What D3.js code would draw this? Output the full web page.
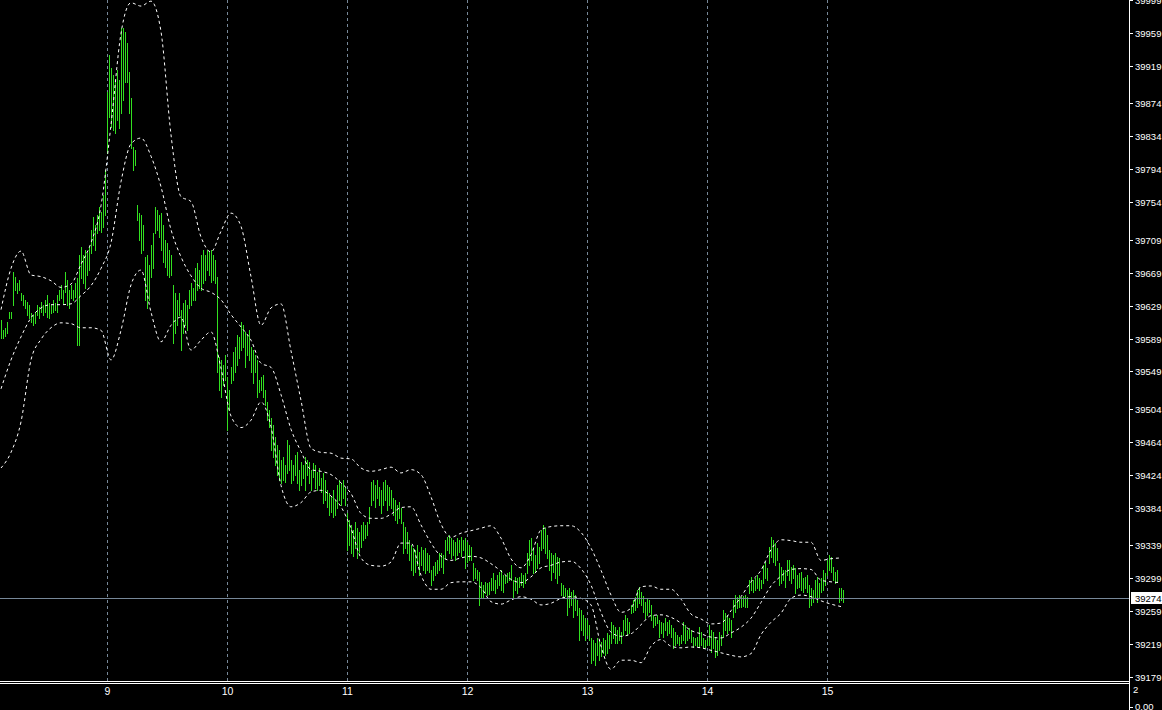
<!DOCTYPE html>
<meta charset="utf-8">
<head>
<title>Bars with Bollinger bands</title>
<style>
body { margin: 0; background: #000; }
svg text { font-family: "Liberation Sans", Arial, sans-serif; fill: #fff; }
</style>
</head>
<body>
<script src="https://d3js.org/d3.v7.min.js"></script>
<script>

// one-minute bars, first bar at 08:07
var firstBarMinute = 8 * 60 + 7;

var highs = [
39612,39599,39602,39609,39621,39621,39670,39664,39656,39660,
39644,39642,39636,39633,39630,39620,39618,39621,39630,39627,
39633,39630,39636,39642,39632,39630,39636,39632,39642,39648,
39654,39648,39670,39660,39648,39654,39648,39656,39662,39690,
39700,39690,39696,39693,39700,39721,39736,39727,39739,39748,
39742,39763,39793,39888,39933,39917,39909,39902,39915,39902,
39966,39966,39961,39947,39912,39881,39821,39818,39751,39741,
39739,39727,39688,39690,39678,39702,39717,39748,39745,39739,
39741,39727,39708,39705,39696,39690,39654,39644,39636,39644,
39624,39632,39636,39630,39648,39656,39650,39674,39681,39672,
39690,39696,39690,39696,39694,39696,39690,39684,39664,39567,
39563,39557,39569,39542,39527,39554,39573,39579,39593,39591,
39609,39605,39597,39593,39599,39579,39575,39569,39563,39539,
39542,39545,39527,39512,39502,39493,39484,39470,39460,39454,
39442,39445,39436,39466,39460,39442,39436,39448,39451,39430,
39439,39436,39445,39442,39439,39430,39438,39436,39427,39432,
39420,39426,39418,39405,39402,39397,39405,39393,39411,39418,
39414,39418,39409,39377,39369,39363,39357,39367,39359,39354,
39363,39367,39363,39367,39385,39415,39418,39411,39418,39409,
39405,39415,39418,39411,39409,39405,39396,39393,39387,39391,
39384,39367,39361,39354,39345,39339,39335,39333,39339,39330,
39336,39333,39335,39329,39327,39308,39313,39318,39320,39329,
39329,39327,39345,39348,39351,39347,39345,39342,39347,39345,
39348,39345,39347,39342,39339,39336,39317,39311,39308,39306,
39294,39290,39294,39293,39294,39299,39305,39296,39302,39306,
39308,39302,39302,39305,39306,39314,39296,39300,39299,39300,
39305,39302,39305,39329,39345,39347,39335,39327,39341,39336,
39357,39363,39359,39351,39333,39329,39327,39329,39324,39323,
39293,39290,39287,39284,39287,39282,39284,39278,39272,39262,
39260,39254,39250,39248,39242,39226,39224,39220,39226,39224,
39221,39226,39224,39232,39230,39245,39242,39239,39236,39239,
39233,39248,39254,39250,39245,39266,39272,39276,39284,39288,
39282,39277,39270,39274,39272,39266,39254,39251,39254,39248,
39245,39244,39250,39245,39248,39242,39238,39233,39230,39227,
39230,39245,39242,39236,39238,39236,39227,39226,39227,39239,
39233,39226,39224,39226,39242,39236,39233,39227,39224,39233,
39230,39260,39256,39254,39250,39248,39272,39278,39276,39278,
39276,39277,39278,39276,39296,39300,39296,39299,39302,39299,
39296,39314,39318,39311,39336,39348,39345,39341,39335,39317,
39312,39308,39308,39320,39320,39312,39314,39311,39302,39305,
39306,39299,39300,39302,39290,39287,39284,39296,39300,39293,
39299,39308,39305,39320,39327,39324,39312,39306,39308,39287,
39287,39284
];

var lows = [
39590,39590,39592,39596,39614,39614,39630,39648,39644,39648,
39636,39630,39626,39618,39614,39609,39605,39608,39618,39614,
39621,39618,39621,39615,39614,39620,39621,39624,39621,39636,
39638,39632,39645,39630,39626,39638,39636,39639,39581,39581,
39662,39656,39650,39666,39672,39693,39702,39696,39717,39721,
39718,39724,39739,39814,39858,39845,39842,39838,39854,39844,
39862,39878,39900,39900,39862,39820,39793,39799,39733,39708,
39693,39696,39636,39626,39636,39664,39674,39717,39721,39712,
39696,39682,39676,39666,39664,39666,39584,39596,39605,39618,
39575,39596,39605,39599,39626,39630,39636,39636,39648,39650,
39648,39656,39660,39672,39666,39658,39660,39656,39548,39527,
39518,39533,39539,39478,39502,39535,39539,39548,39557,39565,
39575,39579,39554,39569,39563,39548,39535,39548,39518,39524,
39527,39518,39508,39490,39482,39454,39445,39436,39424,39418,
39414,39418,39415,39426,39430,39414,39418,39424,39414,39405,
39411,39420,39405,39424,39414,39405,39421,39408,39405,39411,
39403,39390,39393,39385,39375,39379,39373,39375,39384,39393,
39387,39396,39387,39333,39339,39329,39325,39335,39323,39330,
39336,39345,39347,39351,39365,39387,39393,39385,39396,39387,
39377,39387,39393,39381,39387,39384,39375,39369,39365,39371,
39365,39329,39335,39329,39320,39308,39302,39306,39314,39302,
39314,39308,39305,39308,39306,39290,39296,39302,39305,39308,
39312,39305,39323,39333,39329,39323,39327,39320,39327,39330,
39325,39333,39311,39318,39320,39320,39296,39299,39296,39266,
39274,39276,39281,39278,39279,39284,39284,39281,39287,39290,
39284,39282,39293,39294,39296,39296,39274,39284,39281,39288,
39290,39288,39293,39305,39314,39320,39305,39306,39311,39317,
39333,39335,39329,39323,39308,39296,39306,39299,39293,39302,
39278,39274,39277,39254,39264,39266,39251,39260,39254,39224,
39236,39230,39224,39230,39224,39196,39199,39193,39205,39199,
39204,39208,39205,39208,39214,39220,39226,39220,39220,39224,
39220,39230,39236,39230,39232,39256,39257,39260,39264,39268,
39266,39257,39250,39254,39257,39248,39239,39242,39244,39227,
39232,39227,39236,39230,39232,39227,39214,39217,39220,39217,
39220,39224,39220,39224,39226,39221,39215,39217,39216,39215,
39217,39214,39215,39217,39217,39209,39214,39203,39205,39211,
39217,39227,39236,39232,39236,39227,39251,39257,39262,39264,
39264,39265,39264,39264,39281,39284,39282,39284,39287,39284,
39287,39293,39299,39296,39317,39324,39318,39314,39320,39290,
39293,39296,39288,39302,39296,39293,39299,39281,39287,39288,
39284,39282,39287,39282,39264,39266,39270,39276,39270,39276,
39282,39284,39290,39302,39308,39306,39296,39293,39294,39270,
39272,39270
];

// Bollinger bands, read every 5 bars
var bandStep = 5;
var upperBand = [
39624,39674,39695,39666,39664,39659,39651,39655,39679,39705,
39750,39848,39959,39996,39992,39998,39961,39836,39761,39755,
39712,39694,39719,39741,39725,39664,39605,39626,39631,39574,
39514,39456,39451,39450,39444,39443,39432,39428,39430,39433,
39426,39430,39424,39397,39364,39348,39353,39356,39359,39362,
39347,39322,39311,39327,39357,39361,39362,39362,39354,39335,
39308,39278,39257,39262,39288,39289,39285,39285,39273,39255,
39249,39243,39244,39259,39276,39294,39308,39333,39345,39344,
39342,39342,39320,39322,39323
];
var middleBand = [
39528,39563,39591,39614,39626,39630,39630,39631,39641,39653,
39674,39705,39779,39825,39832,39810,39773,39721,39688,39665,
39650,39645,39636,39618,39603,39587,39559,39554,39521,39479,
39452,39430,39428,39424,39414,39401,39377,39371,39371,39376,
39384,39385,39363,39341,39325,39320,39323,39325,39323,39316,
39307,39297,39293,39300,39311,39314,39318,39319,39310,39290,
39257,39233,39228,39231,39242,39253,39254,39251,39244,39235,
39231,39227,39226,39232,39239,39250,39269,39289,39301,39309,
39310,39309,39296,39294,39293
];
var lowerBand = [
39432,39451,39488,39563,39588,39602,39608,39607,39602,39602,
39599,39563,39599,39654,39672,39621,39585,39605,39615,39575,
39587,39597,39553,39495,39481,39490,39512,39482,39411,39385,
39390,39403,39405,39398,39385,39359,39323,39314,39313,39318,
39341,39341,39302,39285,39285,39293,39294,39294,39287,39270,
39267,39272,39276,39273,39266,39268,39274,39276,39274,39266,
39216,39188,39199,39199,39196,39216,39224,39216,39214,39215,
39214,39211,39208,39205,39203,39207,39230,39245,39256,39274,
39278,39276,39271,39267,39264
];

var priceTicks = [39999,39959,39919,39874,39834,39794,39754,39709,39669,39629,
  39589,39549,39504,39464,39424,39384,39339,39299,39259,39219,39179];
var hourTicks = [9, 10, 11, 12, 13, 14, 15];
var lastPrice = 39274;

var width = 1162,
    height = 710,
    plotRight = 1129,
    plotBottom = 681;

var svg = d3.select("body").append("svg")
    .attr("width", width)
    .attr("height", height)
    .style("display", "block")
    .style("background", "#000");

var x = d3.scaleLinear().domain([540, 900]).range([107.5, 827.5]);
var y = d3.scaleLinear().domain([39179, 39959]).range([676.7, 33.3]);

svg.append("clipPath").attr("id", "plot")
  .append("rect").attr("width", plotRight).attr("height", plotBottom);

var plot = svg.append("g").attr("clip-path", "url(#plot)");

// hour grid
plot.append("g").selectAll("line")
  .data(hourTicks)
  .enter().append("line")
    .attr("x1", function(h) { return x(h * 60); })
    .attr("x2", function(h) { return x(h * 60); })
    .attr("y1", 0)
    .attr("y2", plotBottom)
    .attr("stroke", "#778899")
    .attr("stroke-dasharray", "3,3");

// bars
var bars = highs.map(function(h, i) {
  return { t: firstBarMinute + i, high: h, low: lows[i] };
});

plot.append("g").selectAll("line")
  .data(bars)
  .enter().append("line")
    .attr("x1", function(d) { return x(d.t); })
    .attr("x2", function(d) { return x(d.t); })
    .attr("y1", function(d) { return Math.round(y(d.high)); })
    .attr("y2", function(d) { return Math.round(y(d.low)) + 1; })
    .attr("stroke", "#32e020")
    .attr("shape-rendering", "crispEdges");

// bollinger bands
var band = d3.line()
    .x(function(d, i) { return x(firstBarMinute + i * bandStep) - 0.5; })
    .y(function(d) { return y(d); })
    .curve(d3.curveMonotoneX);

[upperBand, middleBand, lowerBand].forEach(function(b) {
  plot.append("path")
      .attr("d", band(b))
      .attr("fill", "none")
      .attr("stroke", "#fff")
      .attr("stroke-dasharray", "3,3");
});

// current price line
var yLast = Math.round(y(lastPrice)) + 0.5;
plot.append("line")
    .attr("x1", 0).attr("x2", plotRight)
    .attr("y1", yLast).attr("y2", yLast)
    .attr("stroke", "#778899");

// frame
svg.append("line")
    .attr("x1", plotRight + 0.5).attr("x2", plotRight + 0.5)
    .attr("y1", 0).attr("y2", height)
    .attr("stroke", "#fff");
[plotBottom + 0.5, plotBottom + 2.5].forEach(function(v) {
  svg.append("line")
      .attr("x1", 0).attr("x2", plotRight)
      .attr("y1", v).attr("y2", v)
      .attr("stroke", "#fff");
});

// price axis
var axis = svg.append("g").selectAll("g")
  .data(priceTicks)
  .enter().append("g")
    .attr("transform", function(d) { return "translate(0," + (Math.round(y(d)) + 0.5) + ")"; });

axis.append("line")
    .attr("x1", plotRight).attr("x2", plotRight + 4)
    .attr("stroke", "#fff");

axis.append("text")
    .attr("x", plotRight + 6)
    .attr("dy", "0.35em")
    .style("font-size", "9.5px")
    .text(function(d) { return d; });

// last price label
svg.append("rect")
    .attr("x", plotRight + 2).attr("y", yLast - 6.5)
    .attr("width", 31).attr("height", 12)
    .attr("fill", "#fff");
svg.append("text")
    .attr("x", plotRight + 6).attr("y", yLast)
    .attr("dy", "0.35em")
    .style("font-size", "9.5px")
    .style("fill", "#000")
    .text(lastPrice);

// hours
svg.append("g").selectAll("text")
  .data(hourTicks)
  .enter().append("text")
    .attr("x", function(h) { return x(h * 60); })
    .attr("y", 691)
    .attr("dy", "0.35em")
    .attr("text-anchor", "middle")
    .style("font-size", "10.5px")
    .text(function(h) { return h; });

// sub window scale
svg.append("text")
    .attr("x", plotRight + 4).attr("y", 690)
    .attr("dy", "0.35em")
    .style("font-size", "9.5px")
    .text("2");
svg.append("line")
    .attr("x1", plotRight).attr("x2", plotRight + 4)
    .attr("y1", 707.5).attr("y2", 707.5)
    .attr("stroke", "#fff");
svg.append("text")
    .attr("x", plotRight + 6).attr("y", 707)
    .attr("dy", "0.35em")
    .style("font-size", "9.5px")
    .text("0.00");

</script>
</body>
